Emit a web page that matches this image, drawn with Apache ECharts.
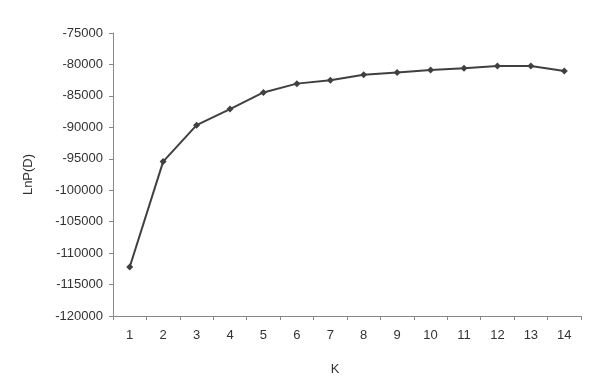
<!DOCTYPE html>
<html><head><meta charset="utf-8">
<script src="https://cdn.jsdelivr.net/npm/echarts@6/dist/echarts.min.js"></script>
<style>html,body{margin:0;padding:0;background:#fff}#c{width:600px;height:392px}</style>
</head><body><div id="c"></div>
<script>
var categories = ['1','2','3','4','5','6','7','8','9','10','11','12','13','14'];
var lnPD = [-112200, -95450, -89650, -87100, -84450, -83050, -82500, -81650, -81300, -80900, -80600, -80250, -80250, -81050];
var chart = echarts.init(document.getElementById('c'));
var txt = {color:'#333', fontFamily:'Liberation Sans, Arial, sans-serif', fontSize:13};
chart.setOption({
  animation:false,
  backgroundColor:'#fff',
  grid:{left:113,right:19,top:33,bottom:76},
  xAxis:{type:'category',data:categories,boundaryGap:true,
    name:'K',nameLocation:'middle',nameGap:47,
    nameTextStyle:Object.assign({padding:[0,24,0,0]},txt),
    axisLine:{lineStyle:{color:'#888',width:1}},
    axisTick:{show:true,length:4,lineStyle:{color:'#888'},alignWithLabel:false},
    axisLabel:Object.assign({margin:13},txt),
    splitLine:{show:false}},
  yAxis:{type:'value',min:-120000,max:-75000,interval:5000,
    name:'LnP(D)',nameLocation:'middle',nameGap:78,nameRotate:90,
    nameTextStyle:txt,
    axisLine:{show:true,lineStyle:{color:'#888',width:1}},
    axisTick:{show:true,length:4,lineStyle:{color:'#888'}},
    axisLabel:Object.assign({margin:10,formatter:function(v){return String(v);}},txt),
    splitLine:{show:false}},
  series:[{type:'line',data:lnPD,symbol:'diamond',symbolSize:7,
    lineStyle:{color:'#404040',width:2},
    itemStyle:{color:'#404040'}}]
});
</script></body></html>
